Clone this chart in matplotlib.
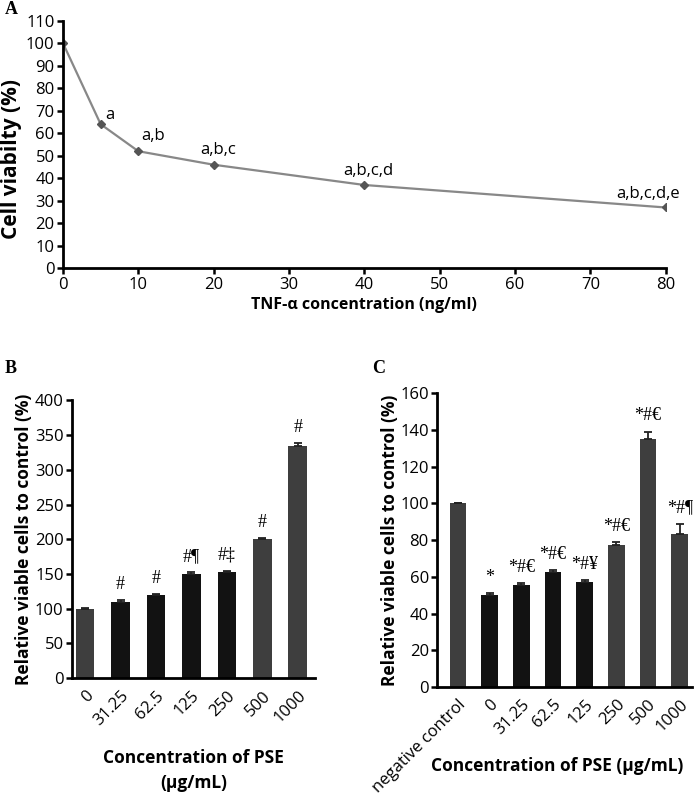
import numpy as np
import matplotlib
matplotlib.use("Agg")
import matplotlib.pyplot as plt

# panel A data
tnf_conc = [0, 5, 10, 20, 40, 80]
viability = [100, 64, 52, 46, 37, 27]
a_labels = ["", "a", "a,b", "a,b,c", "a,b,c,d", "a,b,c,d,e"]

# panel B data
b_cats = ["0", "31.25", "62.5", "125", "250", "500", "1000"]
b_vals = [100, 110, 120, 150, 153, 201, 335]
b_err = [1, 2, 1.5, 3, 2, 1.5, 4]
b_sig = ["", "#", "#", "#¶", "#‡", "#", "#"]
b_dark = [False, True, True, True, True, False, False]

# panel C data
c_cats = ["negative control", "0", "31.25", "62.5", "125", "250", "500", "1000"]
c_vals = [100, 50, 55.5, 62.5, 57, 77.5, 135, 83.5]
c_err = [0, 1, 1, 1, 1, 1.3, 4, 5.5]
c_sig = ["", "*", "*#€", "*#€", "*#¥", "*#€", "*#€", "*#¶"]
c_dark = [False, True, True, True, True, False, False, False]

plt.rcParams['font.family'] = ['Open Sans', 'DejaVu Sans']
SERIF = ['Liberation Serif', 'DejaVu Serif']

fig = plt.figure(figsize=(6.96, 7.96), dpi=100)


def style_axes(ax):
    for s in ['top', 'right']:
        ax.spines[s].set_visible(False)
    for s in ['left', 'bottom']:
        ax.spines[s].set_linewidth(2)
    ax.tick_params(width=1.8, length=4, labelsize=12, pad=2)


# --- A ---
axA = fig.add_axes([0.0905, 0.663, 0.866, 0.311])
axA.plot(tnf_conc, viability, color='#888888', lw=1.6, marker='D', ms=4,
         mfc='#555555', mec='#555555')
offsets = {5: ((3, 1), 'left'), 10: ((2, 5), 'left'), 20: ((3, 5), 'center'),
           40: ((3, 4), 'center'), 80: ((10, 4), 'right')}
for x, y, t in zip(tnf_conc, viability, a_labels):
    if t:
        off, ha = offsets[x]
        axA.annotate(t, (x, y), xytext=off, textcoords='offset points',
                     ha=ha, va='bottom', fontsize=12, annotation_clip=False)
axA.set_xlim(0, 80)
axA.set_ylim(0, 110)
axA.set_xticks(np.arange(0, 81, 10))
axA.set_yticks(np.arange(0, 111, 10))
style_axes(axA)
axA.set_xlabel("TNF-α concentration (ng/ml)", fontweight='bold', fontsize=11.5, labelpad=3)
axA.set_ylabel("Cell viabilty (%)", fontweight='bold', fontsize=15)
axA.yaxis.set_label_coords(-0.068, 0.44)
fig.text(0.007, 0.988, "A", family=SERIF, fontweight='bold', fontsize=13, va='center')


def bar_panel(ax, cats, vals, err, sig, dark, ymax, ystep):
    x = np.arange(len(cats))
    colors = ['#121212' if d else '#3e3e3e' for d in dark]
    ax.bar(x, vals, width=0.53, color=colors)
    ax.errorbar(x, vals, yerr=[np.zeros(len(err)), err], fmt='none',
                ecolor='#222222', elinewidth=1.3, capsize=3, capthick=1.3)
    for xi, v, e, s in zip(x, vals, err, sig):
        if s:
            ax.text(xi, v + e + ymax * 0.025, s, family=SERIF, ha='center',
                    va='bottom', fontsize=13)
    ax.set_ylim(0, ymax)
    ax.set_yticks(np.arange(0, ymax + 1, ystep))
    ax.set_xticks(x)
    ax.set_xticklabels(cats, rotation=45, ha='right', rotation_mode='anchor')
    style_axes(ax)
    ax.tick_params(axis='x', length=0, pad=7)


# --- B ---
axB = fig.add_axes([0.1034, 0.148, 0.349, 0.349])
bar_panel(axB, b_cats, b_vals, b_err, b_sig, b_dark, 400, 50)
axB.set_xlim(-0.37, 6.48)
axB.set_ylabel("Relative viable cells to control (%)", fontweight='bold', fontsize=12.5, labelpad=1)
axB.set_xlabel("Concentration of PSE\n(µg/mL)", fontweight='bold', fontsize=12.5,
               labelpad=14, linespacing=1.5)
fig.text(0.007, 0.537, "B", family=SERIF, fontweight='bold', fontsize=13, va='center')

# --- C ---
axC = fig.add_axes([0.628, 0.137, 0.366, 0.369])
bar_panel(axC, c_cats, c_vals, c_err, c_sig, c_dark, 160, 20)
axC.set_xlim(-0.66, 7.38)
axC.set_ylabel("Relative viable cells to control (%)", fontweight='bold', fontsize=12.5, labelpad=1)
axC.set_xlabel("Concentration of PSE (µg/mL)", fontweight='bold', fontsize=12.5)
axC.xaxis.set_label_coords(0.47, -0.24)
fig.text(0.535, 0.537, "C", family=SERIF, fontweight='bold', fontsize=13, va='center')

fig.savefig("out.png", dpi=100)
